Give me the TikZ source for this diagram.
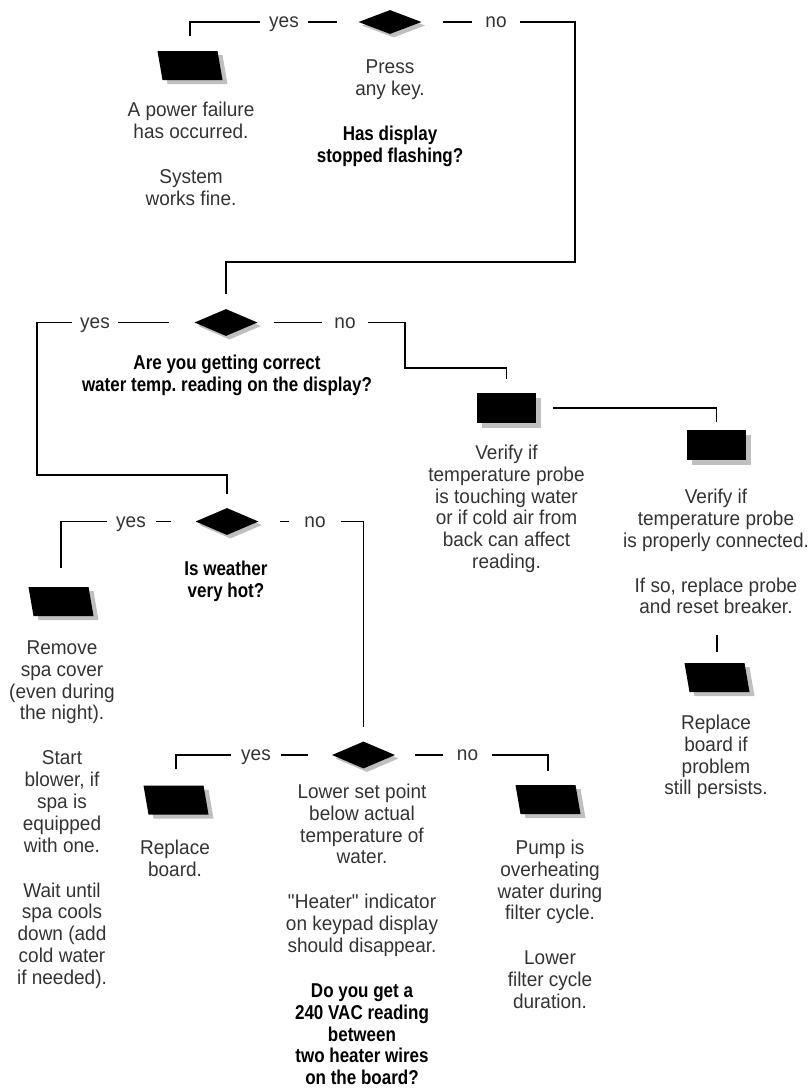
\documentclass[tikz,border=0pt]{standalone}
\usepackage{fontspec}
\setmainfont{Liberation Sans}[FakeStretch=0.95,BoldFeatures={FakeStretch=0.85}]
\usetikzlibrary{shapes.geometric,shadows}
\frenchspacing
\tikzset{
 conn/.style={line width=1.2pt, draw=black},
 dia/.style={diamond, fill=black, inner sep=0pt, minimum width=63pt, minimum height=27pt,
   drop shadow={shadow xshift=3.5pt, shadow yshift=-3.5pt, fill=black!25, opacity=1}},
 card/.style={rectangle, fill=black, inner sep=0pt, minimum width=59pt, minimum height=30pt,
   drop shadow={shadow xshift=5pt, shadow yshift=-5pt, fill=black!25, opacity=1}},
 slabbox/.style={rectangle, inner sep=0pt, minimum width=65pt, minimum height=29pt},
 lbl/.style={fill=white, inner sep=0pt, text height=11pt, text depth=0pt, minimum height=11pt,
   font=\fontsize{20}{22}\selectfont, text=black!80},
 txt/.style={align=center, inner sep=0pt, anchor=north, font=\fontsize{20}{21.8}\selectfont, text=black!80},
 qtxt/.style={txt, font=\fontsize{20}{21.8}\selectfont\bfseries, text=black},
}
\newcommand\pgap{\\[23.2pt]}
\newcommand\slabdraw[1]{%
 \fill[black!25] ([shift={(-27.5,-10.5)}]#1.center) -- ([shift={(32.5,-10.5)}]#1.center) -- ([shift={(37.5,18.5)}]#1.center) -- ([shift={(-22.5,18.5)}]#1.center) -- cycle;
 \fill[black] ([shift={(-32.5,-14.5)}]#1.center) -- ([shift={(27.5,-14.5)}]#1.center) -- ([shift={(32.5,14.5)}]#1.center) -- ([shift={(-27.5,14.5)}]#1.center) -- cycle;}
\begin{document}
\begin{tikzpicture}[x=1pt,y=-1pt]
\useasboundingbox (0,0) rectangle (811,1092);
% shapes
\node[dia, minimum height=24pt] (d1) at (390,22) {};
\node[slabbox] (p1) at (190,65.5) {};
\node[dia] (d2) at (226,322.5) {};
\node[card] (r1) at (506.5,408) {};
\node[card] (r2) at (716.5,445) {};
\node[slabbox] (p5) at (717,677.5) {};
\node[dia] (d3) at (227,521.5) {};
\node[slabbox] (p2) at (61,601.5) {};
\node[dia] (d4) at (363.5,755) {};
\node[slabbox] (p3) at (176,800) {};
\node[slabbox] (p4) at (548,799.5) {};
\slabdraw{p1}\slabdraw{p5}\slabdraw{p2}\slabdraw{p3}\slabdraw{p4}
% bends
\coordinate (c1) at (575,262);
\coordinate (c2) at (37,475);
\coordinate (c3) at (405,368);
\coordinate (c5) at (717,635);
% connectors
\draw[conn, shorten <=21pt, shorten >=15pt] (d1.west) -| (p1.north);
\draw[conn, shorten <=21pt, shorten >=15pt] (d1.east) -| (c1) -| (d2.north);
\draw[conn, shorten <=25pt, shorten >=14pt] (d2.west) -| (c2) -| (d3.north);
\draw[conn, shorten <=16pt, shorten >=14pt] (d2.east) -| (c3) -| (r1.north);
\draw[conn, shorten <=17pt, shorten >=8pt] (r1.east) -| (r2.north);
\draw[conn, shorten >=11pt] (c5) -- (p5.north);
\draw[conn, shorten <=24pt, shorten >=19pt] (d3.west) -| (p2.north);
\draw[conn, shorten <=21pt, shorten >=14pt] (d3.east) -| (d4.north);
\draw[conn, shorten <=24pt, shorten >=16pt] (d4.west) -| (p3.north);
\draw[conn, shorten <=20pt, shorten >=14pt] (d4.east) -| (p4.north);
% labels
\node[lbl, minimum width=48pt] (y1) at (284,22) {yes};
\node[lbl, minimum width=48pt] (n1) at (496,22) {no};
\node[lbl, minimum width=46pt] (y2) at (95,322.5) {yes};
\node[lbl, minimum width=46pt] (n2) at (345,322.5) {no};
\node[lbl, minimum width=49pt] (y3) at (131,521.5) {yes};
\node[lbl, minimum width=52pt] (n3) at (315,521.5) {no};
\node[lbl, minimum width=50pt] (y4) at (256,755) {yes};
\node[lbl, minimum width=49pt] (n4) at (467.5,755) {no};
% texts
\node[txt] (t1) at (191,101) {\strut A power failure\\has occurred.\pgap System\\works fine.};
\node[txt] (t2) at (390,58) {\strut Press\\any key.\pgap\textbf{\color{black}Has display}\\\textbf{\color{black}stopped flashing?}};
\node[qtxt] (t3) at (227,354) {\strut Are you getting correct\\water temp. reading on the display?};
\node[txt] (t4) at (506.5,444) {\strut Verify if\\temperature probe\\is touching water\\or if cold air from\\back can affect\\reading.};
\node[txt] (t5) at (716,488) {\strut Verify if\\temperature probe\\is properly connected.\pgap If so, replace probe\\and reset breaker.};
\node[txt] (t6) at (716,714) {\strut Replace\\board if\\problem\\still persists.};
\node[qtxt] (t7) at (226,560) {\strut Is weather\\very hot?};
\node[txt] (t8) at (62,639) {\strut Remove\\spa cover\\(even during\\the night).\pgap Start\\blower, if\\spa is\\equipped\\with one.\pgap Wait until\\spa cools\\down (add\\cold water\\if needed).};
\node[txt] (t9) at (175,839) {\strut Replace\\board.};
\node[txt] (t10) at (362,783) {\strut Lower set point\\below actual\\temperature of\\water.\pgap \textquotedbl Heater\textquotedbl{} indicator\\on keypad display\\should disappear.\pgap\textbf{\color{black}Do you get a}\\\textbf{\color{black}240 VAC reading}\\\textbf{\color{black}between}\\\textbf{\color{black}two heater wires}\\\textbf{\color{black}on the board?}};
\node[txt] (t11) at (550,839) {\strut Pump is\\overheating\\water during\\filter cycle.\pgap Lower\\filter cycle\\duration.};
\end{tikzpicture}
\end{document}
